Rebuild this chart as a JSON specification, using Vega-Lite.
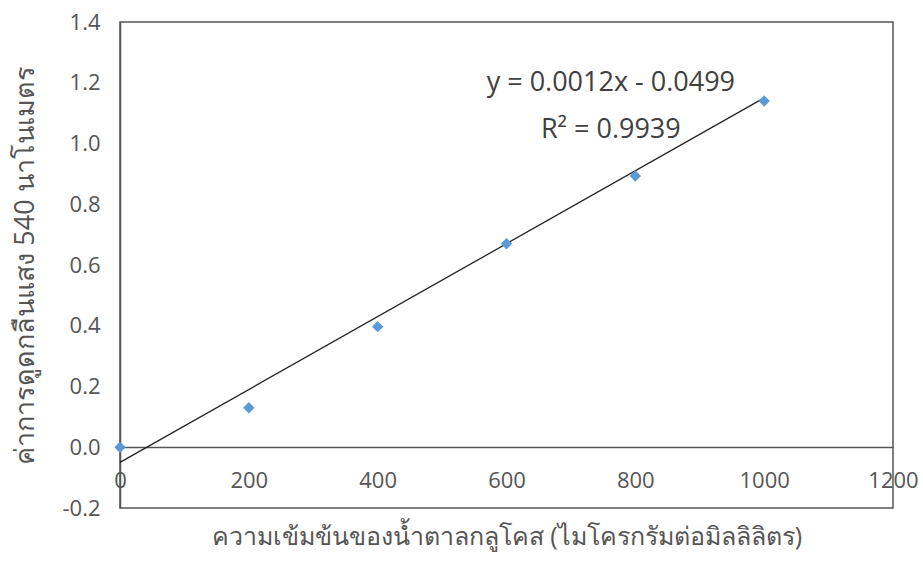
{
  "$schema": "https://vega.github.io/schema/vega-lite/v6.json",
  "autosize": "none",
  "width": 773,
  "height": 486,
  "padding": {"left": 120, "top": 22, "right": 30, "bottom": 55},
  "background": "white",
  "config": {
    "view": {"stroke": "#555555", "strokeWidth": 1.5},
    "font": "Open Sans"
  },
  "datasets": {
    "pts": [
      {"conc": 0, "abs": 0.0},
      {"conc": 200, "abs": 0.13},
      {"conc": 400, "abs": 0.397},
      {"conc": 600, "abs": 0.67},
      {"conc": 800, "abs": 0.893},
      {"conc": 1000, "abs": 1.14}
    ],
    "trend": [
      {"conc": 0, "abs": -0.0499},
      {"conc": 1000, "abs": 1.1501}
    ],
    "notes": [
      {"conc": 762, "abs": 1.2, "label": "y = 0.0012x - 0.0499"},
      {"conc": 762, "abs": 1.044, "label": "R² = 0.9939"}
    ]
  },
  "encoding": {
    "x": {
      "field": "conc", "type": "quantitative",
      "scale": {"domain": [0, 1200], "nice": false},
      "axis": {
        "title": "ความเข้มข้นของน้ำตาลกลูโคส (ไมโครกรัมต่อมิลลิลิตร)",
        "values": [0, 200, 400, 600, 800, 1000, 1200],
        "format": "d",
        "offset": -61,
        "grid": false, "ticks": false,
        "domainColor": "#555555", "domainWidth": 1.5,
        "labelFontSize": 22, "labelColor": "#555555", "labelPadding": 23,
        "labelFlush": false,
        "titleFontSize": 25, "titleColor": "#555555", "titleFontWeight": "normal",
        "titlePadding": 33
      }
    },
    "y": {
      "field": "abs", "type": "quantitative",
      "scale": {"domain": [-0.2, 1.4], "nice": false, "zero": false},
      "axis": {
        "title": "ค่าการดูดกลืนแสง 540 นาโนเมตร",
        "values": [-0.2, 0, 0.2, 0.4, 0.6, 0.8, 1.0, 1.2, 1.4],
        "labelExpr": "replace(format(datum.value, '.1f'), '\u2212', '-')",
        "grid": false, "ticks": false,
        "domainColor": "#555555", "domainWidth": 1.5,
        "labelFontSize": 22, "labelColor": "#555555", "labelPadding": 20,
        "titleFontSize": 27, "titleColor": "#555555", "titleFontWeight": "normal",
        "titlePadding": 22
      }
    }
  },
  "layer": [
    {
      "data": {"name": "trend"},
      "mark": {"type": "line", "color": "#222222", "strokeWidth": 1.3}
    },
    {
      "data": {"name": "pts"},
      "mark": {"type": "point", "shape": "diamond", "filled": true, "size": 130, "color": "#5B9BD5", "opacity": 1}
    },
    {
      "data": {"name": "notes"},
      "mark": {"type": "text", "fontSize": 27, "color": "#404040", "align": "center", "baseline": "middle"},
      "encoding": {"text": {"field": "label"}}
    }
  ]
}
